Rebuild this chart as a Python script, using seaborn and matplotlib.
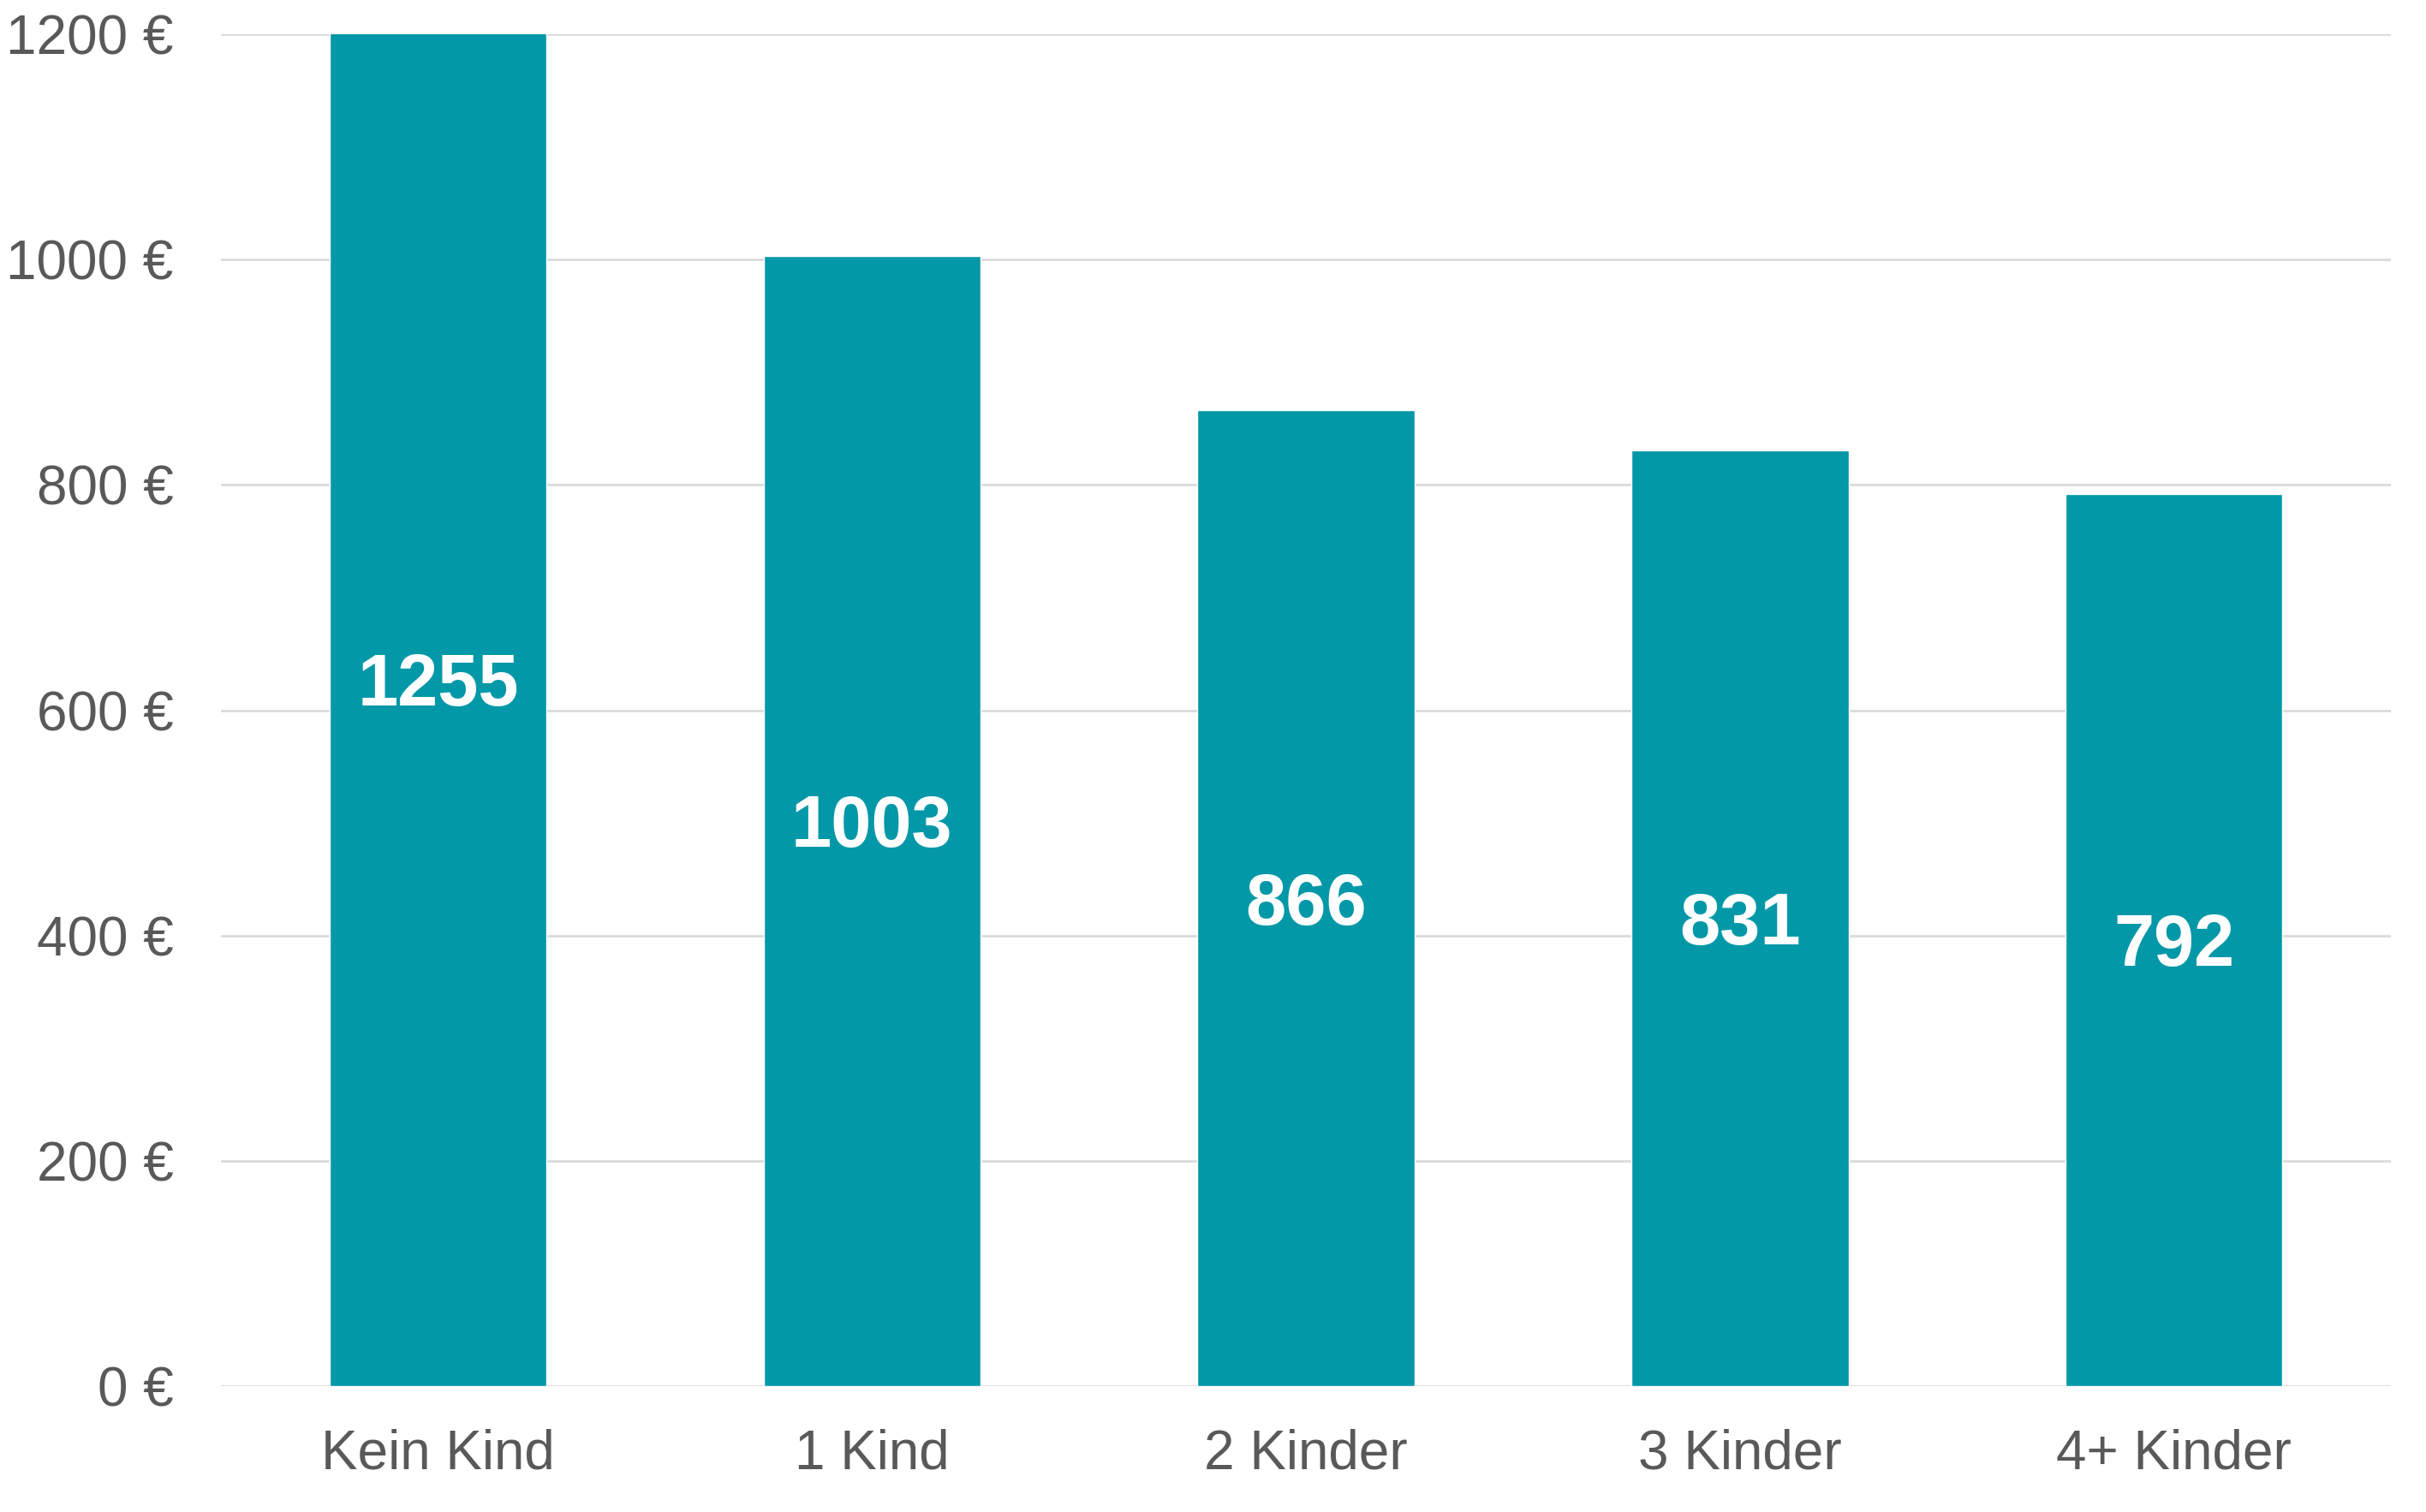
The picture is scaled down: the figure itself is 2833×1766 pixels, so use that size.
import matplotlib
matplotlib.use("Agg")
import matplotlib.pyplot as plt
import seaborn as sns
import pandas as pd

categories = ["Kein Kind", "1 Kind", "2 Kinder", "3 Kinder", "4+ Kinder"]
values = [1255, 1003, 866, 831, 792]
y_ticks = [0, 200, 400, 600, 800, 1000, 1200]
y_tick_labels = ["0 €", "200 €", "400 €", "600 €", "800 €", "1000 €", "1200 €"]

sns.set_theme(style="white")
plt.rcParams["font.family"] = ["Liberation Sans", "DejaVu Sans"]

df = pd.DataFrame({"Kategorie": categories, "Wert": values})

fig = plt.figure(figsize=(28.33, 17.66), dpi=100)
ax = fig.add_axes([258 / 2833, 1 - 1619 / 1766, (2792 - 258) / 2833, (1619 - 40) / 1766])

bar_color = "#0398A8"
sns.barplot(data=df, x="Kategorie", y="Wert", color=bar_color, saturation=1,
            width=0.5, ax=ax, zorder=3)

ax.set_ylim(0, 1200)
ax.set_xlim(-0.5, 4.5)
ax.set_yticks(y_ticks)
ax.set_yticklabels(y_tick_labels)
ax.yaxis.grid(True, color="#D9D9D9", linewidth=1.9, zorder=0)
ax.set_axisbelow(True)
for s in ax.spines.values():
    s.set_visible(False)
ax.set_xlabel("")
ax.set_ylabel("")
ax.tick_params(axis="y", length=0, pad=40, labelsize=46, labelcolor="#595959")
ax.tick_params(axis="x", length=0, pad=36, labelsize=46, labelcolor="#595959")

label_size = 61
for p, v in zip(ax.patches, values):
    cx = p.get_x() + p.get_width() / 2
    ax.annotate(f"{v}", xy=(cx, v / 2), xytext=(0, -0.716 * label_size / 2),
                textcoords="offset points", ha="center", va="baseline",
                color="white", fontsize=label_size, fontweight="bold", zorder=5)

fig.savefig("out.png", dpi=100, facecolor="white")
